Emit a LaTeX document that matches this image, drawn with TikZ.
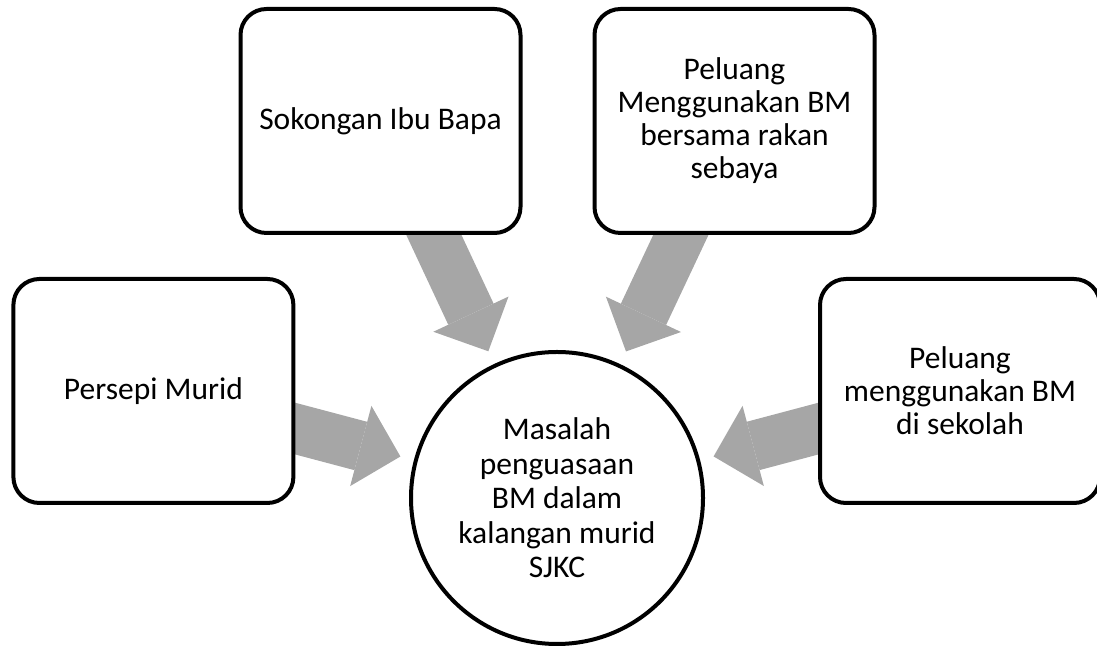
\documentclass[tikz,border=0pt]{standalone}
\usepackage{fontspec}
\setmainfont{Carlito}
\usetikzlibrary{arrows.meta, backgrounds}

\definecolor{arrowgray}{RGB}{166,166,166}

\begin{document}
\begin{tikzpicture}[
	box/.style={draw, line width=0.1cm, rounded corners=0.65cm, fill=white, minimum width=7cm, minimum height=5.6cm, inner sep=0pt, align=center, font=\fontsize{22.4}{23.5}\selectfont},
	hub/.style={draw, circle, line width=0.1cm, fill=white, minimum size=7.3cm, inner sep=0pt, align=center, font=\fontsize{22.4}{24.5}\selectfont},
	flow/.style={draw=arrowgray, line width=1.25cm, shorten >=0.35cm, -{Triangle[length=1.025cm, width=2.075cm, line width=0pt, fill=arrowgray]}}
]
	\useasboundingbox (0,0) rectangle (27.425,16.2);
	\node[box] (persepi) at (3.835,6.425) {Persepi Murid};
	\node[box] (sokongan) at (9.5125,13.175) {Sokongan Ibu Bapa};
	\node[box] (rakan) at (18.3625,13.175) {Peluang\\Menggunakan BM\\bersama rakan\\sebaya};
	\node[box] (sekolah) at (24,6.425) {Peluang\\menggunakan BM\\di sekolah};
	\node[hub] (masalah) at (13.925,3.75) {Masalah\\penguasaan\\BM dalam\\kalangan murid\\SJKC};
	\begin{scope}[on background layer]
		\draw[flow] (persepi.center) -- (masalah);
		\draw[flow] (sokongan.center) -- (masalah);
		\draw[flow] (rakan.center) -- (masalah);
		\draw[flow] (sekolah.center) -- (masalah);
	\end{scope}
\end{tikzpicture}
\end{document}
